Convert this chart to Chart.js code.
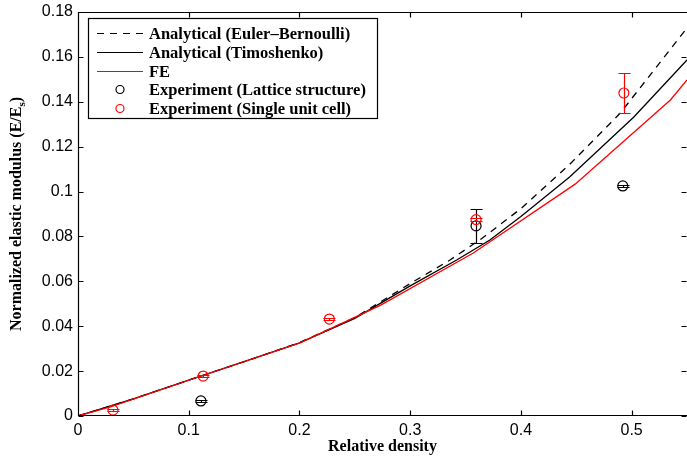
<!DOCTYPE html>
<html>
<head>
<meta charset="utf-8">
<script src="https://cdn.jsdelivr.net/npm/chart.js@4.4.1/dist/chart.umd.min.js"></script>
<style>
  html, body { margin: 0; padding: 0; background: #fff; }
  #c { display: block; }
</style>
</head>
<body>
<canvas id="c" width="687" height="462"></canvas>
<script>
// Módulo elástico normalizado vs. densidade relativa: curvas analíticas,
// FE e dois conjuntos experimentais com barras de erro (estilo MATLAB).

// Euler–Bernoulli (tracejada)
const ebDensity = [0, 0.05, 0.1, 0.15, 0.2, 0.25, 0.3, 0.336, 0.365, 0.4, 0.444, 0.49, 0.55];
const ebModulus = [0, 0.0076, 0.016, 0.0242, 0.0327, 0.0438, 0.059, 0.0695, 0.0792, 0.0924, 0.1121, 0.1351, 0.1729];

// Timoshenko (preta contínua)
const timoDensity = [0, 0.05, 0.1, 0.15, 0.2, 0.25, 0.3, 0.342, 0.372, 0.4, 0.444, 0.502, 0.55];
const timoModulus = [0, 0.0076, 0.016, 0.0242, 0.0326, 0.0435, 0.058, 0.0695, 0.0784, 0.0889, 0.1065, 0.1332, 0.1586];

// FE (vermelha)
const feDensity = [0, 0.03, 0.11, 0.2, 0.273, 0.357, 0.449, 0.535, 0.55];
const feModulus = [0, 0.0042, 0.0176, 0.0325, 0.0493, 0.0726, 0.1033, 0.1408, 0.1497];

// Experimento: estrutura em treliça
const latDensity = [0.111, 0.3595, 0.492];
const latModulus = [0.0067, 0.0847, 0.1025];
const latLow = [0.0063, 0.0771, 0.1019];
const latHigh = [0.0071, 0.0922, 0.1027];

// Experimento: célula unitária única
const cellDensity = [0.0316, 0.113, 0.227, 0.3595, 0.493];
const cellModulus = [0.0026, 0.0178, 0.0432, 0.0875, 0.1439];
const cellLow = [0.0022, 0.0174, 0.0428, 0.0867, 0.1351];
const cellHigh = [0.003, 0.0182, 0.0436, 0.0884, 0.1528];

const xTickValues = [0, 0.1, 0.2, 0.3, 0.4, 0.5];
const yTickValues = [0, 0.02, 0.04, 0.06, 0.08, 0.1, 0.12, 0.14, 0.16, 0.18];

const xTitle = 'Relative density';
const yTitle = ['Normalized elastic modulus (E/E', 's', ')'];

const SANS = "'Liberation Sans', Arial, sans-serif";
const SERIF = "'Liberation Serif', 'Times New Roman', serif";

const pts = (xs, ys) => xs.map((x, i) => ({ x, y: ys[i] }));
const fmt = (v) => String(+v.toFixed(2));

const line = (label, xs, ys, color, dash, order) => ({
    type: 'line',
    label,
    data: pts(xs, ys),
    borderColor: color,
    borderWidth: 1.3,
    borderDash: dash,
    pointRadius: 0,
    tension: 0,
    fill: false,
    order,
});

const markers = (label, xs, ys, lo, hi, color, order) => ({
    type: 'scatter',
    label,
    data: pts(xs, ys),
    errLow: lo,
    errHigh: hi,
    borderColor: color,
    backgroundColor: 'rgba(0,0,0,0)',
    borderWidth: 1.2,
    pointStyle: 'circle',
    pointRadius: 5,
    order,
});

// barras de erro desenhadas logo após cada dataset, usando as escalas do gráfico
const errorBars = {
    id: 'errorBars',
    afterDatasetDraw(chart, args) {
        const ds = chart.data.datasets[args.index];
        if (!ds.errLow) return;
        const { ctx, chartArea, scales: { x, y } } = chart;
        ctx.save();
        ctx.beginPath();
        ctx.rect(chartArea.left, chartArea.top, chartArea.width, chartArea.height);
        ctx.clip();
        ctx.strokeStyle = ds.borderColor;
        ctx.lineWidth = 1.2;
        ds.data.forEach((p, i) => {
            const px = Math.round(x.getPixelForValue(p.x)) + 0.5;
            const y1 = Math.round(y.getPixelForValue(ds.errLow[i])) + 0.5;
            const y2 = Math.round(y.getPixelForValue(ds.errHigh[i])) + 0.5;
            ctx.beginPath();
            ctx.moveTo(px, y1); ctx.lineTo(px, y2);
            ctx.moveTo(px - 6, y1); ctx.lineTo(px + 6, y1);
            ctx.moveTo(px - 6, y2); ctx.lineTo(px + 6, y2);
            ctx.stroke();
        });
        ctx.restore();
    },
};

// moldura com ticks para dentro, títulos dos eixos e legenda no canto
const frame = {
    id: 'frame',
    afterDraw(chart) {
        const { ctx, chartArea: a, scales: { x, y } } = chart;
        const L = a.left + 0.5, B = a.bottom - 0.5, T = a.top + 0.5, R = a.right - 0.5;
        ctx.save();
        ctx.strokeStyle = '#000';
        ctx.lineWidth = 1.2;
        ctx.beginPath();
        ctx.moveTo(a.right, T); ctx.lineTo(L, T); ctx.lineTo(L, B); ctx.lineTo(a.right, B);
        xTickValues.forEach((v) => {
            const px = Math.round(x.getPixelForValue(v)) + 0.5;
            ctx.moveTo(px, B); ctx.lineTo(px, B - 5);
            ctx.moveTo(px, T); ctx.lineTo(px, T + 5);
        });
        yTickValues.forEach((v) => {
            const py = Math.round(y.getPixelForValue(v)) + 0.5;
            ctx.moveTo(L, py); ctx.lineTo(L + 5, py);
            ctx.moveTo(R, py); ctx.lineTo(R - 5, py);
        });
        ctx.stroke();

        // título do eixo x
        ctx.fillStyle = '#000';
        ctx.font = `bold 16px ${SERIF}`;
        ctx.textAlign = 'center';
        ctx.textBaseline = 'middle';
        ctx.fillText(xTitle, (a.left + a.right) / 2, 447);

        // título do eixo y com subscrito
        ctx.translate(17, (a.top + a.bottom) / 2);
        ctx.rotate(-Math.PI / 2);
        const big = `bold 16px ${SERIF}`, small = `bold 11px ${SERIF}`;
        ctx.font = big;
        const w0 = ctx.measureText(yTitle[0]).width;
        const w2 = ctx.measureText(yTitle[2]).width;
        ctx.font = small;
        const w1 = ctx.measureText(yTitle[1]).width;
        let tx = -(w0 + w1 + w2) / 2;
        ctx.textAlign = 'left';
        ctx.font = big;
        ctx.fillText(yTitle[0], tx, 0);
        tx += w0;
        ctx.font = small;
        ctx.fillText(yTitle[1], tx, 5);
        tx += w1;
        ctx.font = big;
        ctx.fillText(yTitle[2], tx, 0);
        ctx.restore();

        // legenda
        ctx.save();
        ctx.fillStyle = '#fff';
        ctx.fillRect(88, 18, 289, 100);
        ctx.strokeStyle = '#000';
        ctx.lineWidth = 1.2;
        ctx.strokeRect(88.5, 18.5, 289, 100);
        ctx.font = `bold 16.5px ${SERIF}`;
        ctx.textAlign = 'left';
        ctx.textBaseline = 'middle';
        chart.data.datasets.forEach((ds, i) => {
            const ry = Math.round(33 + i * 18.8) + 0.5;
            ctx.strokeStyle = ds.borderColor;
            ctx.lineWidth = 1.2;
            ctx.beginPath();
            if (ds.type === 'line') {
                ctx.setLineDash(ds.borderDash || []);
                ctx.moveTo(97, ry); ctx.lineTo(143, ry);
            } else {
                ctx.setLineDash([]);
                ctx.arc(120, ry, 4, 0, Math.PI * 2);
            }
            ctx.stroke();
            ctx.setLineDash([]);
            ctx.fillStyle = '#000';
            ctx.fillText(ds.label, 149, ry + 1);
        });
        ctx.restore();
    },
};

new Chart(document.getElementById('c'), {
    type: 'scatter',
    data: {
        datasets: [
            line('Analytical (Euler\u2013Bernoulli)', ebDensity, ebModulus, '#000', [7, 6], 4),
            line('Analytical (Timoshenko)', timoDensity, timoModulus, '#000', [], 3),
            line('FE', feDensity, feModulus, '#ff0000', [], 2),
            markers('Experiment (Lattice structure)', latDensity, latModulus, latLow, latHigh, '#000', 1),
            markers('Experiment (Single unit cell)', cellDensity, cellModulus, cellLow, cellHigh, '#ff0000', 0),
        ],
    },
    options: {
        responsive: false,
        animation: false,
        devicePixelRatio: 1,
        layout: { autoPadding: false, padding: { top: 12, left: 0, right: 0, bottom: 0 } },
        plugins: { legend: { display: false }, tooltip: { enabled: false } },
        scales: {
            x: {
                type: 'linear',
                min: 0,
                max: 0.55,
                afterBuildTicks: (s) => { s.ticks = xTickValues.map((value) => ({ value })); },
                afterFit: (s) => { s.height = 46; s.paddingLeft = 0; s.paddingRight = 0; },
                grid: { display: false, drawTicks: false },
                border: { display: false },
                ticks: {
                    color: '#000',
                    font: { family: SANS, size: 16, lineHeight: 1 },
                    padding: 7,
                    maxRotation: 0,
                    autoSkip: false,
                    callback: fmt,
                },
            },
            y: {
                type: 'linear',
                min: 0,
                max: 0.18,
                afterBuildTicks: (s) => { s.ticks = yTickValues.map((value) => ({ value })); },
                afterFit: (s) => { s.width = 78; s.paddingTop = 0; s.paddingBottom = 0; },
                grid: { display: false, drawTicks: false },
                border: { display: false },
                ticks: {
                    color: '#000',
                    font: { family: SANS, size: 16, lineHeight: 1 },
                    padding: 5,
                    autoSkip: false,
                    callback: fmt,
                },
            },
        },
    },
    plugins: [errorBars, frame],
});
</script>
</body>
</html>
